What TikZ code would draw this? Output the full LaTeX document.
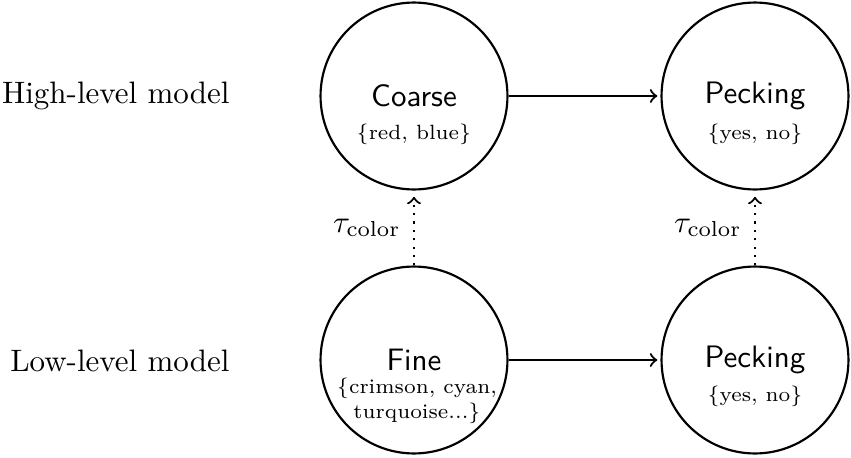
\documentclass[tikz,border=0pt]{standalone}
\usepackage{fontspec}
\begin{document}
\begin{tikzpicture}[x=0.3226pt,y=-0.3226pt,line width=0.7pt,
  state/.style={draw,circle,minimum size=60.3pt,inner sep=0pt,font=\sffamily},
  setlbl/.style={font=\fontsize{6.65}{8.1}\selectfont,align=center,inner sep=0pt},
  rowlbl/.style={anchor=east,inner sep=0pt},
  trans/.style={->,shorten >=1pt},
  abst/.style={->,dotted,shorten >=2pt}]
\useasboundingbox (0,0) rectangle (851,457);
\node[rowlbl] (hl) at (230.5,96) {High-level model};
\node[rowlbl] (ll) at (230.5,361) {Low-level model};
\node[state] (coarse) at (414,96) {Coarse};
\node[state] (peckH) at (755,96) {Pecking};
\node[state] (fine) at (414,360) {Fine};
\node[state] (peckL) at (755,360) {Pecking};
\node[setlbl] (scoarse) at (414,134) {\{red, blue\}};
\node[setlbl] (speckH) at (755,134) {\{yes, no\}};
\node[setlbl] (sfine) at (417,400.5) {\{crimson, cyan,\\ turquoise...\}};
\node[setlbl] (speckL) at (755,396) {\{yes, no\}};
\draw[trans] (coarse) -- (peckH);
\draw[trans] (fine) -- (peckL);
\draw[abst] (fine) -- node[left,inner sep=4pt] (t1) {$\tau_{\mathrm{color}}$} (coarse);
\draw[abst] (peckL) -- node[left,inner sep=4pt] (t2) {$\tau_{\mathrm{color}}$} (peckH);
\end{tikzpicture}
\end{document}
